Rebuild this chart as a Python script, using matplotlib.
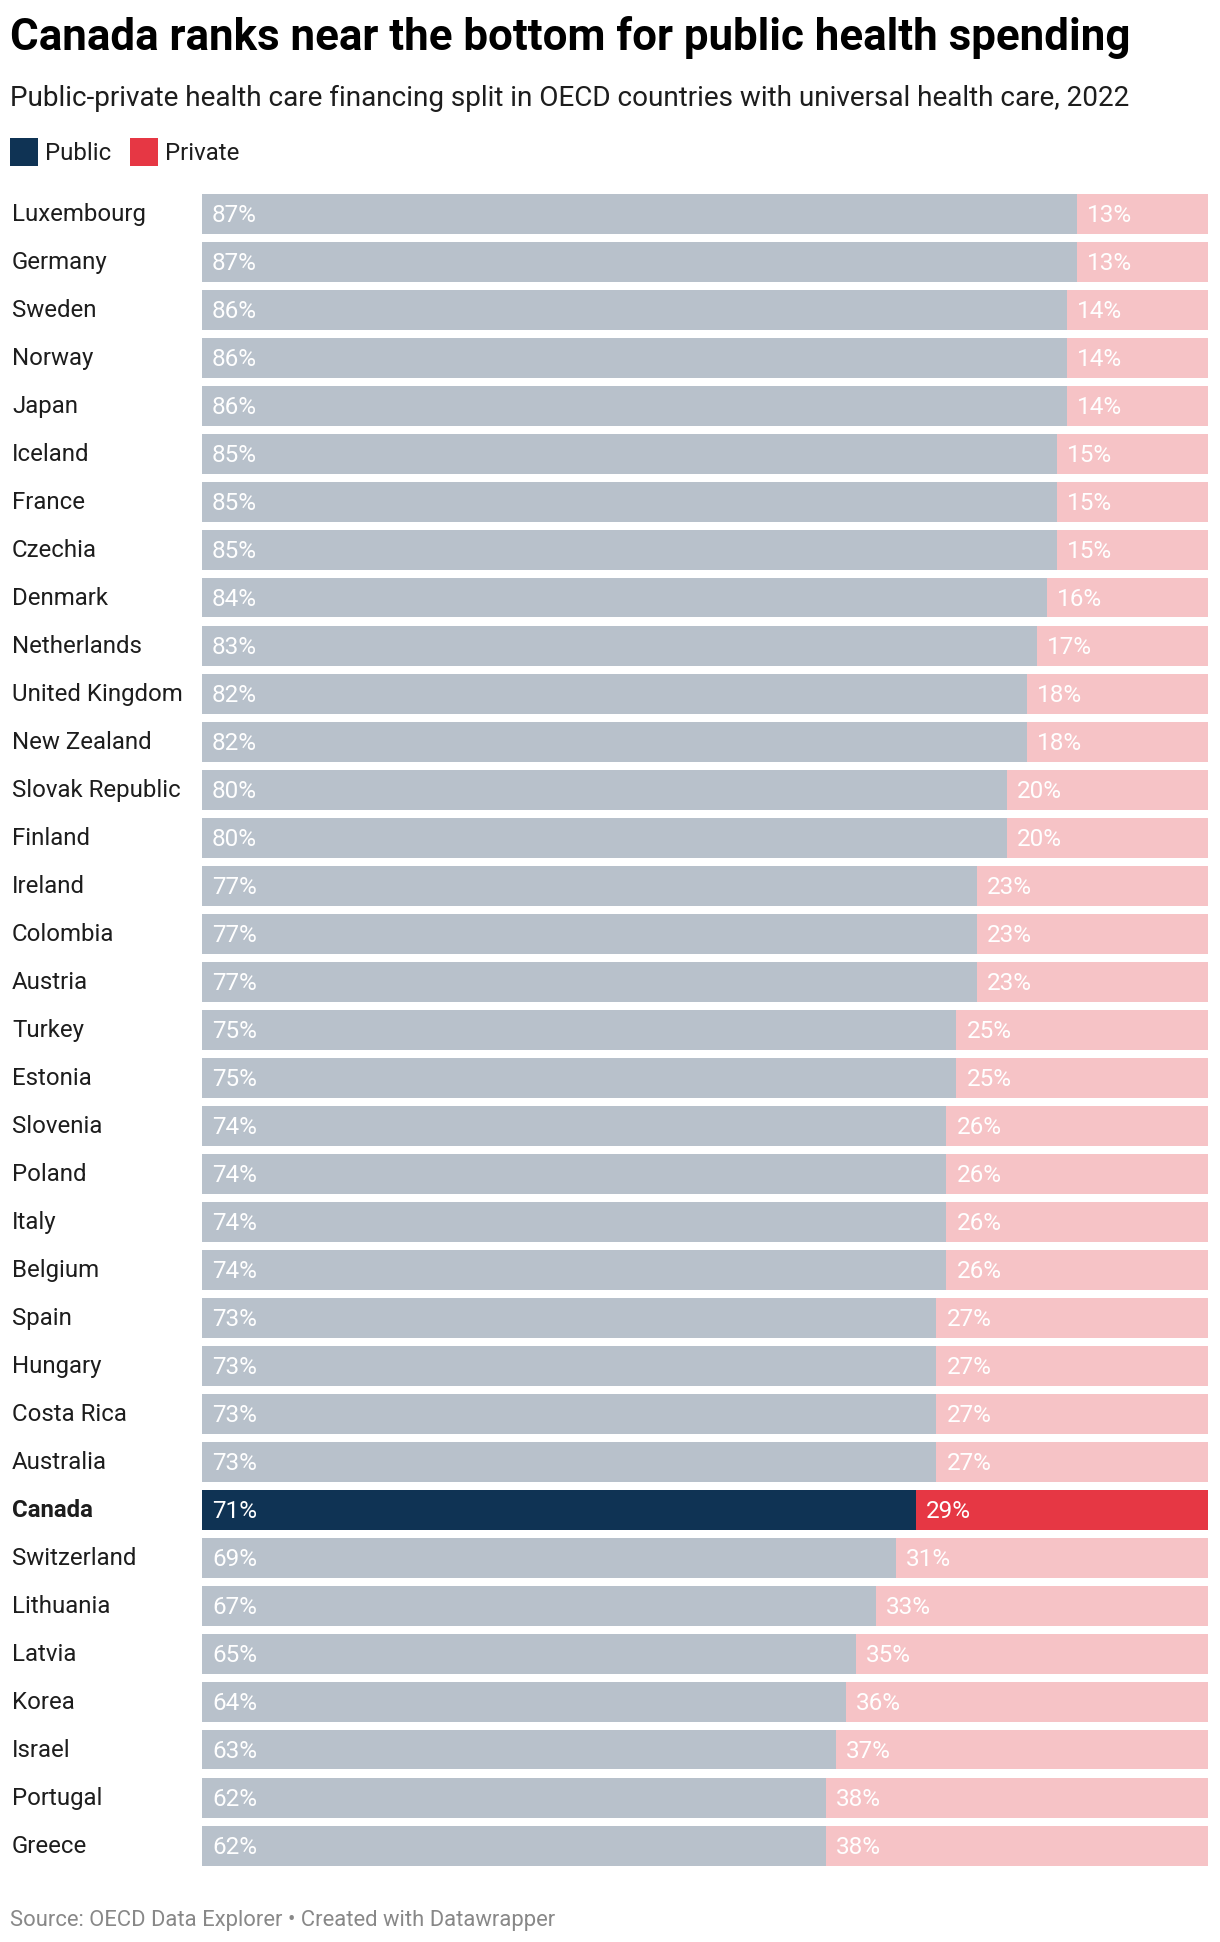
import matplotlib.pyplot as plt
import matplotlib.transforms as mtransforms
from matplotlib.patches import Rectangle

countries = ["Luxembourg", "Germany", "Sweden", "Norway", "Japan", "Iceland", "France",
             "Czechia", "Denmark", "Netherlands", "United Kingdom", "New Zealand",
             "Slovak Republic", "Finland", "Ireland", "Colombia", "Austria", "Turkey",
             "Estonia", "Slovenia", "Poland", "Italy", "Belgium", "Spain", "Hungary",
             "Costa Rica", "Australia", "Canada", "Switzerland", "Lithuania", "Latvia",
             "Korea", "Israel", "Portugal", "Greece"]
public = [87, 87, 86, 86, 86, 85, 85, 85, 84, 83, 82, 82, 80, 80, 77, 77, 77, 75, 75,
          74, 74, 74, 74, 73, 73, 73, 73, 71, 69, 67, 65, 64, 63, 62, 62]
private = [13, 13, 14, 14, 14, 15, 15, 15, 16, 17, 18, 18, 20, 20, 23, 23, 23, 25, 25,
           26, 26, 26, 26, 27, 27, 27, 27, 29, 31, 33, 35, 36, 37, 38, 38]
highlight = "Canada"

W, H = 1220, 1942
plt.rcParams['font.family'] = ['Roboto', 'DejaVu Sans']

# colours
grey = "#b8c1cb"
pink = "#f6c3c6"
navy = "#0f3354"
red = "#e63744"

fig = plt.figure(figsize=(W / 100, H / 100), dpi=100)

# bar area in pixels
bar_left, bar_right = 202, 1208
first_top, pitch, bar_h_px = 194, 48, 39.5
n = len(countries)
bottom_px = first_top + (n - 1) * pitch + bar_h_px
h = bar_h_px / pitch

ax = fig.add_axes([bar_left / W, 1 - bottom_px / H,
                   (bar_right - bar_left) / W, (bottom_px - first_top) / H])
ax.set_xlim(0, 100)
ax.set_ylim(n - 1 + h / 2, -h / 2)
ax.axis('off')

for i, (c, pub, pri) in enumerate(zip(countries, public, private)):
    is_hl = c == highlight
    ax.barh(i, pub, height=h, left=0, color=navy if is_hl else grey, linewidth=0)
    ax.barh(i, pri, height=h, left=pub, color=red if is_hl else pink, linewidth=0)

# labels
lab_tr = mtransforms.blended_transform_factory(fig.transFigure, ax.transData)
px = mtransforms.ScaledTranslation(10 / 100, 0, fig.dpi_scale_trans)
for i, (c, pub, pri) in enumerate(zip(countries, public, private)):
    is_hl = c == highlight
    ax.text(12 / W, i + 7.5 / pitch, c, transform=lab_tr, fontsize=17.3,
            color="#1d1d1d", va='baseline', ha='left',
            fontweight='bold' if is_hl else 'normal')
    ax.text(0, i + 8 / pitch, f"{pub}%", transform=ax.transData + px,
            fontsize=17.5, color="white", va='baseline', ha='left')
    ax.text(pub, i + 8 / pitch, f"{pri}%", transform=ax.transData + px,
            fontsize=17.5, color="white", va='baseline', ha='left')

# title, subtitle
fig.text(10 / W, 1 - 50 / H, "Canada ranks near the bottom for public health spending",
         fontsize=31.6, fontweight='bold', color="black", va='baseline', ha='left')
fig.text(10 / W, 1 - 106 / H,
         "Public-private health care financing split in OECD countries with universal health care, 2022",
         fontsize=20.1, color="#1d1d1d", va='baseline', ha='left')

# legend
for x0, col, name in [(10, navy, "Public"), (130, red, "Private")]:
    fig.patches.append(Rectangle((x0 / W, 1 - 166 / H), 28 / W, 28 / H,
                                 transform=fig.transFigure, color=col, linewidth=0))
    fig.text((x0 + 35) / W, 1 - 160 / H, name, fontsize=17.3, color="#1d1d1d",
             va='baseline', ha='left')

fig.text(10 / W, 1 - 1926 / H, "Source: OECD Data Explorer \u2022 Created with Datawrapper",
         fontsize=15.8, color="#888888", va='baseline', ha='left')

fig.savefig("out.png", dpi=100)
